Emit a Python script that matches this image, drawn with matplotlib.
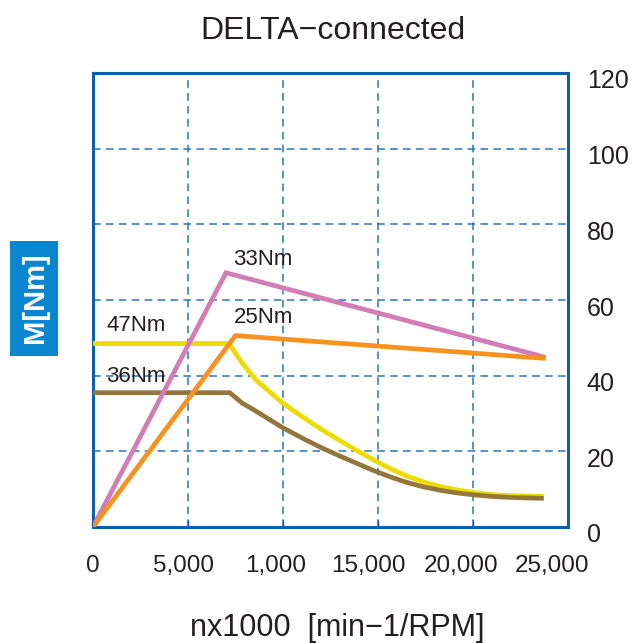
import numpy as np
import matplotlib
matplotlib.use("Agg")
import matplotlib.pyplot as plt
import matplotlib.transforms as mtransforms
from matplotlib.patches import Rectangle

plt.rcParams['font.family'] = ['Liberation Sans', 'DejaVu Sans']
plt.rcParams['lines.scale_dashes'] = False

# 곡선 데이터 (rpm, Nm)
pink_x = [0, 7000, 23700]
pink_y = [0, 67.2, 45.0]
orange_x = [0, 7500, 23700]
orange_y = [0, 50.6, 44.6]
yellow_x = [0, 7150, 7840, 8550, 9300, 10000, 11200, 12090, 12970, 13850, 15000,
            15620, 16510, 17390, 18280, 19170, 20050, 20940, 21830, 22710, 23600]
yellow_y = [48.5, 48.5, 43.4, 39.0, 35.7, 32.7, 28.5, 25.6, 22.9, 20.3, 17.1,
            15.5, 13.5, 11.9, 10.7, 9.8, 9.1, 8.6, 8.3, 8.2, 8.1]
brown_x = [0, 7200, 7840, 8550, 10000, 11200, 12090, 12970, 13850, 14730,
           15620, 16510, 17390, 18280, 19170, 20050, 20940, 21830, 22710, 23600]
brown_y = [35.5, 35.5, 32.8, 30.7, 26.2, 23.0, 20.8, 18.8, 16.9, 15.0,
           13.3, 11.8, 10.6, 9.7, 9.0, 8.5, 8.1, 7.85, 7.7, 7.6]

x_ticks = [0, 5000, 10000, 15000, 20000, 25000]
x_labels = ['0', '5,000', '1,000', '15,000', '20,000', '25,000']
y_ticks = [0, 20, 40, 60, 80, 100, 120]

labels = ['33Nm', '25Nm', '47Nm', '36Nm']
label_pos = [(7350, 70.6), (7400, 55.4), (700, 53.3), (700, 39.9)]

blue = '#0d5eac'
grid_blue = '#2f74b9'
txt = '#231f20'

fig = plt.figure(figsize=(6.39, 6.43), dpi=100)
ax = fig.add_axes([93/639, 1-527/643, 475/639, 454/643])

lw = 3.4
ax.plot(yellow_x, yellow_y, color='#ecdc00', lw=lw, solid_joinstyle='round', zorder=3)
ax.plot(brown_x, brown_y, color='#93763a', lw=lw, solid_joinstyle='round', zorder=3)
ax.plot(pink_x, pink_y, color='#d27db6', lw=lw, solid_joinstyle='miter', zorder=4)
ax.plot(orange_x, orange_y, color='#f7921f', lw=lw, solid_joinstyle='miter', zorder=5)

for t, (px, py) in zip(labels, label_pos):
    ax.text(px, py, t, fontsize=16, color=txt, va='center', ha='left', zorder=6)

ax.set_xlim(0, 25000)
ax.set_ylim(0, 120)
ax.set_xticks(x_ticks)
ax.set_xticklabels(x_labels)
ax.set_yticks(y_ticks)

ax.yaxis.tick_right()
ax.tick_params(axis='y', length=0, pad=13.5, labelsize=18, labelcolor=txt)
ax.tick_params(axis='x', direction='in', length=5, width=1, color=blue,
               pad=20, labelsize=17.5, labelcolor=txt)

down = mtransforms.ScaledTranslation(0, -6/100, fig.dpi_scale_trans)
for lab in ax.get_yticklabels():
    lab.set_horizontalalignment('left')
    lab.set_transform(lab.get_transform() + down)

x_shift = [0, -4, -7, -10, -12, -16]
for lab, dx in zip(ax.get_xticklabels(), x_shift):
    lab.set_transform(lab.get_transform() +
                      mtransforms.ScaledTranslation(dx/100, 0, fig.dpi_scale_trans))

ax.grid(True, color=grid_blue, lw=1.1, linestyle=(0, (5.5, 3.8)))
ax.set_axisbelow(True)
for s in ax.spines.values():
    s.set_color(blue)
    s.set_linewidth(2.2)

fig.text(333/639, 1-31/643, 'DELTA\u2212connected', fontsize=23, ha='center', va='center', color=txt)
fig.text(337/639, 1-628/643, 'nx1000  [min\u22121/RPM]', fontsize=22, ha='center', va='center', color=txt)

fig.patches.append(Rectangle((10/639, 1-356/643), 48/639, 115/643,
                             transform=fig.transFigure, fc='#0a85cf', ec='none'))
fig.text(35/639, 1-298/643, 'M[Nm]', fontsize=21, fontweight='bold', rotation=90,
         ha='center', va='center', color='white')

fig.savefig('out.png', dpi=100)
